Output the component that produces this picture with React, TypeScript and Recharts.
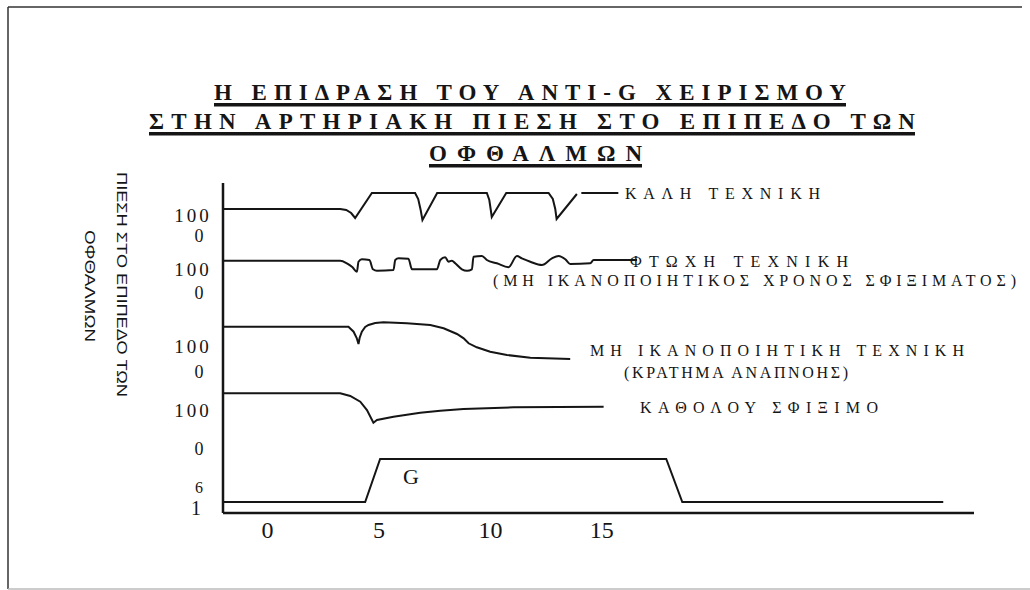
import { LineChart, Line, XAxis, YAxis } from "recharts";

type Pt = { t: number; v: number | null };

// time in seconds along x, trace level along y (each trace sits on its own band)
const X_TICKS = [0, 5, 10, 15];
const Y_TICK_VALUES = [297, 277, 243, 220, 166, 141, 102, 64, 25, 5];
const Y_TICK_LABELS = ["100", "0", "100", "0", "100", "0", "100", "0", "6", "1"];

const goodTechnique: Pt[] = [
  { t: -2, v: 304 }, { t: 3.26, v: 304 }, { t: 3.53, v: 303 }, { t: 3.75, v: 300 },
  { t: 3.93, v: 295 }, { t: 4.68, v: 320 }, { t: 6.62, v: 320 }, { t: 6.76, v: 314 },
  { t: 6.87, v: 303 }, { t: 6.95, v: 293 }, { t: 7.61, v: 320 }, { t: 9.84, v: 320 },
  { t: 9.95, v: 313 }, { t: 10.01, v: 304 }, { t: 10.06, v: 296 }, { t: 10.71, v: 320 },
  { t: 12.61, v: 320 }, { t: 12.8, v: 314 }, { t: 12.91, v: 304 }, { t: 12.97, v: 294 },
  { t: 13.88, v: 319 }, { t: 13.95, v: null }, { t: 14.08, v: 320 }, { t: 15.74, v: 320 },
];

const poorTechnique: Pt[] = [
  { t: -2, v: 252.3 }, { t: 3.26, v: 252.3 }, { t: 3.56, v: 249.7 }, { t: 3.8, v: 246 },
  { t: 4.01, v: 241.3 }, { t: 4.08, v: 251.3 }, { t: 4.23, v: 253.7 }, { t: 4.57, v: 253 },
  { t: 4.73, v: 243.7 }, { t: 4.91, v: 242.3 }, { t: 5.65, v: 243 }, { t: 5.73, v: 253 },
  { t: 5.88, v: 254.7 }, { t: 6.32, v: 254.3 }, { t: 6.48, v: 243.7 }, { t: 7.6, v: 243.7 },
  { t: 7.75, v: 253 }, { t: 7.97, v: 255.7 }, { t: 8.12, v: 251.3 }, { t: 8.27, v: 252.3 },
  { t: 8.42, v: 249.7 }, { t: 8.72, v: 243.7 }, { t: 8.95, v: 242.3 }, { t: 9.17, v: 243.7 },
  { t: 9.24, v: 256.3 }, { t: 9.62, v: 257 }, { t: 9.84, v: 253 }, { t: 10.29, v: 249.7 },
  { t: 10.81, v: 245.7 }, { t: 11.19, v: 257 }, { t: 11.41, v: 254.7 }, { t: 11.79, v: 251.3 },
  { t: 12.31, v: 248 }, { t: 12.76, v: 254.7 }, { t: 13.06, v: 257 }, { t: 13.36, v: 253.7 },
  { t: 13.58, v: 249 }, { t: 14.48, v: 249.7 }, { t: 14.63, v: 253 }, { t: 16.58, v: 253 },
];

const breathHold: Pt[] = [
  { t: -2, v: 186.3 }, { t: 3.63, v: 186.3 }, { t: 3.86, v: 181.3 }, { t: 4.0, v: 175 },
  { t: 4.08, v: 169 }, { t: 4.13, v: 175 }, { t: 4.23, v: 181.3 }, { t: 4.38, v: 186 },
  { t: 4.53, v: 188 }, { t: 4.83, v: 190 }, { t: 5.2, v: 190.7 }, { t: 6.25, v: 189.7 },
  { t: 7.3, v: 188 }, { t: 7.9, v: 184.7 }, { t: 8.5, v: 179 }, { t: 8.8, v: 174.7 },
  { t: 9.02, v: 169.7 }, { t: 9.39, v: 165.7 }, { t: 9.99, v: 161.3 }, { t: 10.74, v: 158 },
  { t: 11.79, v: 155.3 }, { t: 13.58, v: 154 },
];

const noStrain: Pt[] = [
  { t: -2, v: 119.7 }, { t: 3.26, v: 119.7 }, { t: 3.71, v: 117 }, { t: 4.16, v: 111.3 },
  { t: 4.46, v: 103 }, { t: 4.75, v: 90.3 }, { t: 4.91, v: 93 }, { t: 5.65, v: 96.3 },
  { t: 6.85, v: 100.3 }, { t: 7.75, v: 102.3 }, { t: 8.79, v: 104 }, { t: 11.04, v: 105.7 },
  { t: 15.08, v: 106.3 },
];

const gLoad: Pt[] = [
  { t: -2, v: 11 }, { t: 4.38, v: 11 }, { t: 5.05, v: 54 }, { t: 17.89, v: 54 },
  { t: 18.61, v: 11 }, { t: 30.32, v: 11 },
];

const SERIES: { data: Pt[]; curve: "linear" | "monotone" }[] = [
  { data: goodTechnique, curve: "linear" },
  { data: poorTechnique, curve: "monotone" },
  { data: breathHold, curve: "linear" },
  { data: noStrain, curve: "linear" },
  { data: gLoad, curve: "linear" },
];

const SERIF = "'Liberation Serif', 'Times New Roman', serif";
const SANS = "'Liberation Sans', Arial, sans-serif";
const INK = "#151515";

function tickStyle(label: string) {
  if (label === "100") return { size: 19, dx: -20, spacing: 3 };
  if (label === "1") return { size: 20, dx: -17, spacing: 0 };
  if (label === "6") return { size: 16, dx: -14, spacing: 0 };
  return { size: 18, dx: -14, spacing: 0 };
}

function YTick(props: any) {
  const { x, y, payload } = props;
  const i = Y_TICK_VALUES.indexOf(payload.value);
  const label = i >= 0 ? Y_TICK_LABELS[i] : "";
  const st = tickStyle(label);
  return (
    <text
      x={x + st.dx}
      y={y}
      dy={st.size * 0.34}
      textAnchor="middle"
      fontFamily={SERIF}
      fontSize={st.size}
      letterSpacing={st.spacing}
      fill={INK}
    >
      {label}
    </text>
  );
}

function Title() {
  const lines = [
    { text: "Η ΕΠΙΔΡΑΣΗ ΤΟΥ ΑΝΤΙ-G ΧΕΙΡΙΣΜΟΥ", x0: 214, x1: 846, base: 100 },
    { text: "ΣΤΗΝ ΑΡΤΗΡΙΑΚΗ ΠΙΕΣΗ ΣΤΟ ΕΠΙΠΕΔΟ ΤΩΝ", x0: 149, x1: 915, base: 129 },
    { text: "ΟΦΘΑΛΜΩΝ", x0: 429, x1: 642, base: 161 },
  ];
  return (
    <g>
      {lines.map((l) => (
        <g key={l.text}>
          <text
            x={l.x0}
            y={l.base}
            textLength={l.x1 - l.x0}
            lengthAdjust="spacing"
            fontFamily={SERIF}
            fontWeight="bold"
            fontSize={23}
            fill={INK}
          >
            {l.text}
          </text>
          <rect x={l.x0} y={l.base + 3} width={l.x1 - l.x0} height={3.5} fill={INK} />
        </g>
      ))}
    </g>
  );
}

function SeriesLabels() {
  const labels = [
    { text: "ΚΑΛΗ ΤΕΧΝΙΚΗ", x0: 625, x1: 820, base: 198.5 },
    { text: "ΦΤΩΧΗ ΤΕΧΝΙΚΗ", x0: 630, x1: 848, base: 267 },
    { text: "(ΜΗ ΙΚΑΝΟΠΟΙΗΤΙΚΟΣ ΧΡΟΝΟΣ ΣΦΙΞΙΜΑΤΟΣ)", x0: 493, x1: 1016, base: 285.5 },
    { text: "ΜΗ ΙΚΑΝΟΠΟΙΗΤΙΚΗ ΤΕΧΝΙΚΗ", x0: 590, x1: 964, base: 355.5 },
    { text: "(ΚΡΑΤΗΜΑ ΑΝΑΠΝΟΗΣ)", x0: 624, x1: 848, base: 378 },
    { text: "ΚΑΘΟΛΟΥ ΣΦΙΞΙΜΟ", x0: 640, x1: 878, base: 412.5 },
  ];
  return (
    <g>
      {labels.map((l) => (
        <text
          key={l.text}
          x={l.x0}
          y={l.base}
          textLength={l.x1 - l.x0}
          lengthAdjust="spacing"
          fontFamily={SERIF}
          fontSize={16}
          fill={INK}
        >
          {l.text}
        </text>
      ))}
      <text x={403} y={484} fontFamily={SERIF} fontSize={22} fill={INK}>
        G
      </text>
    </g>
  );
}

function AxisTitle() {
  return (
    <g fontFamily={SANS} fontSize={15} fill={INK}>
      <text transform="translate(117,172) rotate(90)" textLength={225} lengthAdjust="spacingAndGlyphs">
        ΠΙΕΣΗ ΣΤΟ ΕΠΙΠΕΔΟ ΤΩΝ
      </text>
      <text transform="translate(85,230) rotate(90)" textLength={112} lengthAdjust="spacingAndGlyphs">
        ΟΦΘΑΛΜΩΝ
      </text>
    </g>
  );
}

export default function App() {
  return (
    <div style={{ position: "fixed", left: 0, top: 0, width: 1030, height: 590, background: "#fff" }}>
      <LineChart
        width={1030}
        height={590}
        margin={{ top: 183, right: 56, bottom: 37, left: 163 }}
      >
        <XAxis
          type="number"
          dataKey="t"
          domain={[-2, 31.7]}
          allowDataOverflow
          ticks={X_TICKS}
          tickLine={false}
          tickSize={0}
          tickMargin={8}
          height={40}
          axisLine={{ stroke: INK, strokeWidth: 2.5 }}
          tick={{ fontFamily: SERIF, fontSize: 24, fill: INK }}
        />
        <YAxis
          type="number"
          domain={[0, 330]}
          allowDataOverflow
          ticks={Y_TICK_VALUES}
          interval={0}
          width={60}
          tickLine={false}
          tickSize={0}
          tickMargin={10}
          axisLine={{ stroke: INK, strokeWidth: 2.5 }}
          tick={(p: any) => <YTick {...p} />}
        />
        {SERIES.map((s, i) => (
          <Line
            key={i}
            data={s.data}
            dataKey="v"
            type={s.curve}
            stroke={INK}
            strokeWidth={2}
            dot={false}
            activeDot={false}
            connectNulls={false}
            isAnimationActive={false}
          />
        ))}
      </LineChart>
      <svg
        width={1030}
        height={590}
        style={{ position: "absolute", left: 0, top: 0, pointerEvents: "none" }}
      >
        <line x1={8} y1={7} x2={1022} y2={7} stroke="#333" strokeWidth={1.5} />
        <line x1={8} y1={7} x2={8} y2={589} stroke="#333" strokeWidth={1.5} />
        <line x1={8} y1={589} x2={1030} y2={589} stroke="#bbb" strokeWidth={1.5} />
        <Title />
        <AxisTitle />
        <SeriesLabels />
      </svg>
    </div>
  );
}
